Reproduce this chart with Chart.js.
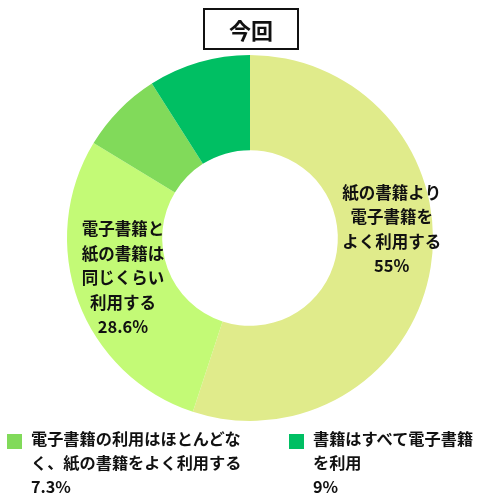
<!DOCTYPE html>
<html><head><meta charset="utf-8">
<script src="https://cdn.jsdelivr.net/npm/chart.js@4"></script>
<style>
html,body{margin:0;padding:0;background:#fff;}
body{width:500px;height:500px;position:relative;overflow:hidden;font-family:"Noto Sans CJK JP","Noto Sans",sans-serif;}
#wrap{position:absolute;left:0;top:0;width:500px;height:500px;}
#title{position:absolute;left:203px;top:8px;width:92px;height:38px;border:2px solid #111;box-sizing:content-box;
 display:flex;align-items:center;justify-content:center;font-weight:700;font-size:22px;color:#111;}
.leg{position:absolute;top:426px;font-weight:700;font-size:16.2px;line-height:24px;color:#111;}
.leg .sw{position:absolute;left:0;top:8px;width:15px;height:15px;}
.leg .tx{position:absolute;left:24px;top:0;}
</style></head>
<body>
<div id="wrap"><canvas id="c" width="500" height="500"></canvas></div>
<div id="title"></div>
<div id="legend"></div>
<script>
const titleText = "今回";
const categories = [
  "紙の書籍より\n電子書籍を\nよく利用する",
  "電子書籍と\n紙の書籍は\n同じくらい\n利用する",
  "電子書籍の利用はほとんどな\nく、紙の書籍をよく利用する",
  "書籍はすべて電子書籍\nを利用"
];
const values = [55, 28.6, 7.3, 9];
const valueLabels = ["55%", "28.6%", "7.3%", "9%"];
const colors = ["#e0eb8b", "#c3fa76", "#81da5a", "#00bf63"];
const insideLabel = [true, true, false, false];
const legendLeft = [7, 289];

document.getElementById('title').textContent = titleText;

const labelOffsets = [[8, -30], [0, -7]];

const sliceLabels = {
  id: 'sliceLabels',
  afterDatasetsDraw(chart) {
    const ctx = chart.ctx;
    const meta = chart.getDatasetMeta(0);
    ctx.save();
    ctx.font = "700 16.5px 'Noto Sans CJK JP'";
    ctx.fillStyle = "#111";
    ctx.textAlign = "center";
    ctx.textBaseline = "middle";
    let k = 0;
    meta.data.forEach((arc, i) => {
      if (!insideLabel[i]) return;
      const p = arc.tooltipPosition();
      const off = labelOffsets[k++] || [0,0];
      const lines = categories[i].split("\n").concat([valueLabels[i]]);
      const lh = 24.5;
      const y0 = p.y + off[1] - (lines.length - 1) * lh / 2;
      lines.forEach((ln, j) => ctx.fillText(ln, p.x + off[0], y0 + j * lh));
    });
    ctx.restore();
  }
};

new Chart(document.getElementById('c'), {
  type: 'doughnut',
  data: {
    labels: categories.map(s => s.replace(/\n/g, "")),
    datasets: [{ data: values, backgroundColor: colors, borderWidth: 0, hoverOffset: 0 }]
  },
  options: {
    responsive: false,
    animation: false,
    cutout: '48%',
    layout: { padding: { top: 55, bottom: 79, left: 67, right: 67 } },
    plugins: { legend: { display: false }, tooltip: { enabled: false } }
  },
  plugins: [sliceLabels]
});

const lg = document.getElementById('legend');
let li = 0;
categories.forEach((c, i) => {
  if (insideLabel[i]) return;
  const d = document.createElement('div');
  d.className = 'leg';
  d.style.left = legendLeft[li++] + 'px';
  const sw = document.createElement('div');
  sw.className = 'sw'; sw.style.background = colors[i];
  const tx = document.createElement('div');
  tx.className = 'tx';
  tx.innerHTML = c.split("\n").concat([valueLabels[i]]).map(s => s.replace(/&/g,'&amp;').replace(/</g,'&lt;')).join('<br>');
  tx.style.whiteSpace = 'nowrap';
  d.appendChild(sw); d.appendChild(tx);
  lg.appendChild(d);
});
</script>
</body></html>
